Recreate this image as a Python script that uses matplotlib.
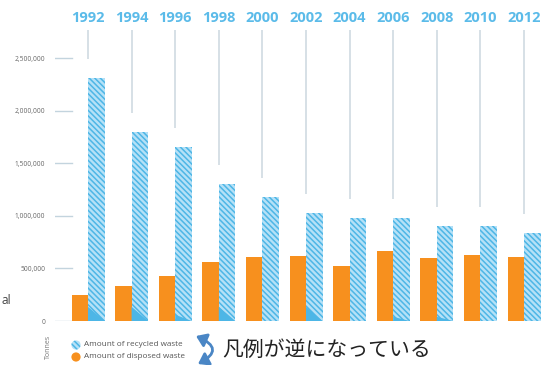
import matplotlib
matplotlib.use("Agg")
import matplotlib.pyplot as plt
from matplotlib.patches import Circle, FancyArrowPatch
from matplotlib.path import Path
import numpy as np

# Waste amounts in tonnes, two-year steps
years = ["1992", "1994", "1996", "1998", "2000", "2002",
         "2004", "2006", "2008", "2010", "2012"]
recycled = [2310000, 1800000, 1650000, 1300000, 1180000, 1030000,
            980000, 980000, 900000, 900000, 840000]
disposed = [250000, 335000, 425000, 558000, 610000, 615000,
            520000, 665000, 596000, 627000, 605000]
# height of the solid wedge at the foot of each hatched bar
wedge = [135000, 135000, 60000, 135000, 0, 135000,
         0, 40000, 40000, 0, 0]
yticks = [0, 500000, 1000000, 1500000, 2000000, 2500000]

BLUE = "#4db6e6"
BLUE_LIGHT = "#b5e1f7"
ORANGE = "#f7901e"
LINE = "#d3dde4"

plt.rcParams["hatch.linewidth"] = 1.1

W, H = 544, 365
fig = plt.figure(figsize=(W / 100, H / 100), dpi=100)
fig.patch.set_facecolor("white")

# main chart area: value 0 sits 44 px above the bottom edge
ax = fig.add_axes([55 / W, 44 / H, 489 / W, 321 / H])
ax.set_facecolor("none")
px_per_val = 105.2 / 1e6
ax.set_ylim(0, 321 / px_per_val)
step = 43.6
ax.set_xlim((55 - 88) / step, (544 - 88) / step)

x = np.arange(len(years))
bw = 16.5 / step
ax.bar(x - bw / 2, disposed, width=bw, color=ORANGE, linewidth=0, zorder=3)
blue_bars = ax.bar(x + bw / 2, recycled, width=bw, facecolor=BLUE_LIGHT,
                   edgecolor=BLUE, linewidth=0, hatch="\\\\\\\\\\\\", zorder=3)

# solid wedge at the foot of the hatched bars
for bar, h in zip(blue_bars, wedge):
    if h > 0:
        x0 = bar.get_x()
        x1 = x0 + bar.get_width()
        ax.fill([x0, x0, x1], [0, h, 0], color=BLUE, linewidth=0, zorder=4)

# year headings with drop lines toward each hatched bar
top_line = (321 - 30) / px_per_val
label_y = (321 - 18) / px_per_val
gap = 0.18e6
ax.vlines(x, np.array(recycled) + gap, top_line, color=LINE, lw=1.3, zorder=1)
for xi, yr in zip(x, years):
    ax.text(xi, label_y, yr, ha="center", va="center", fontsize=10.5,
            fontweight="bold", family="Open Sans", color="#5bbbe9")

# short value guides on the left
x_left = ax.get_xlim()[0]
for v in yticks:
    ax.plot([x_left, x_left + 17 / step], [v, v], color="#c3d4de", lw=1, zorder=2)

ax.set_yticks(yticks)
ax.set_yticklabels([f"{v:,}" for v in yticks], fontsize=4.8,
                   family="Open Sans", color="#666666")
ax.tick_params(axis="y", length=0, pad=7)
ax.set_xticks([])
for s in ax.spines.values():
    s.set_visible(False)

# overlay in pixel units for legend and notes
ov = fig.add_axes([0, 0, 1, 1])
ov.set_xlim(0, W)
ov.set_ylim(H, 0)
ov.axis("off")
ov.set_facecolor("none")

ov.add_patch(Circle((76, 345), 4.6, facecolor=BLUE_LIGHT, edgecolor=BLUE,
                    linewidth=0, hatch="\\\\\\\\\\\\"))
ov.add_patch(Circle((76, 357), 4.6, facecolor=ORANGE, linewidth=0))
ov.text(84, 345, "Amount of recycled waste", ha="left", va="center",
        fontsize=5.9, family="Open Sans", color="#555555")
ov.text(84, 357, "Amount of disposed waste", ha="left", va="center",
        fontsize=5.9, family="Open Sans", color="#555555")
ov.text(48, 347, "Tonnes", ha="center", va="center", rotation=90,
        fontsize=5, family="Open Sans", color="#777777")
ov.text(1, 300, "al", ha="left", va="center", fontsize=8.5,
        family="Open Sans", color="#444444")

# curved two-headed arrow pointing at the legend
curve = Path([(196, 336), (226, 349), (198, 364)],
             [Path.MOVETO, Path.CURVE3, Path.CURVE3])
curve = ov.transData.transform_path(curve)
arrow = FancyArrowPatch(path=curve, transform=None,
                        arrowstyle="<|-|>,head_length=0.5,head_width=0.35",
                        mutation_scale=12, color="#4a86c5", lw=2)
fig.add_artist(arrow)
ov.text(222, 350, "凡例が逆になっている", ha="left", va="center",
        fontsize=15, family=["Noto Sans CJK JP", "DejaVu Sans"], color="#222222")

fig.savefig("out.png", dpi=100, facecolor="white")
